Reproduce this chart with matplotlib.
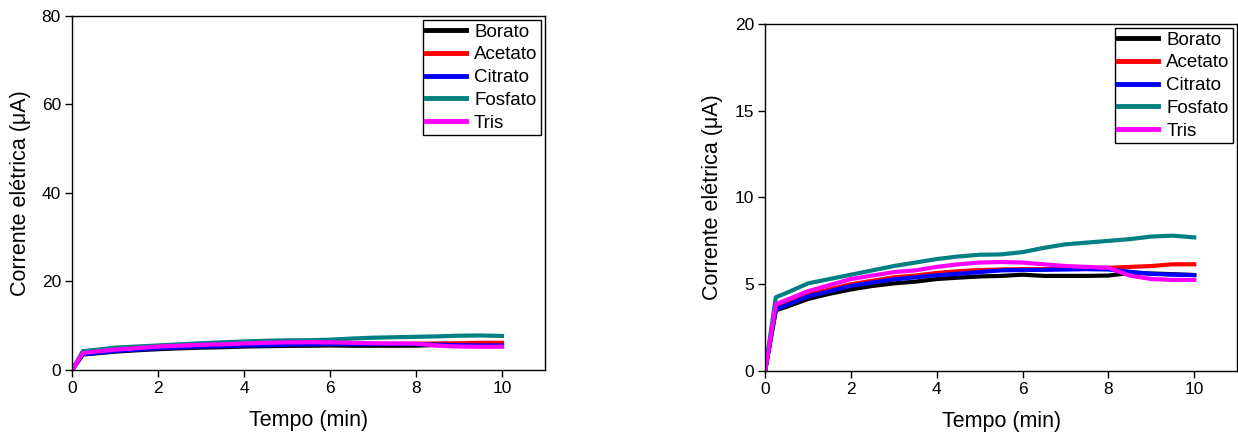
import numpy as np
import matplotlib
matplotlib.use("Agg")
from matplotlib import pyplot as plt

plt.rcParams['font.family'] = ['Liberation Sans', 'DejaVu Sans']

# time (min)
tempo = [0, 0.25, 0.5, 1, 1.5, 2, 2.5, 3, 3.5, 4, 4.5, 5, 5.5, 6, 6.5, 7, 7.5, 8, 8.5, 9, 9.5, 10]

# current (uA) per buffer
borato = [0, 3.5, 3.7, 4.15, 4.45, 4.7, 4.9, 5.05, 5.15, 5.3, 5.38, 5.45, 5.48, 5.55, 5.48, 5.48, 5.48, 5.5, 5.65, 5.62, 5.58, 5.53]
acetato = [0, 3.65, 3.9, 4.4, 4.7, 5.0, 5.2, 5.4, 5.5, 5.65, 5.75, 5.82, 5.85, 5.87, 5.87, 5.9, 5.92, 5.95, 6.0, 6.05, 6.15, 6.15]
citrato = [0, 3.55, 3.8, 4.3, 4.6, 4.9, 5.1, 5.28, 5.4, 5.52, 5.6, 5.7, 5.8, 5.82, 5.83, 5.85, 5.87, 5.85, 5.72, 5.6, 5.55, 5.53]
fosfato = [0, 4.25, 4.5, 5.05, 5.3, 5.55, 5.8, 6.05, 6.25, 6.45, 6.6, 6.7, 6.72, 6.85, 7.1, 7.3, 7.4, 7.5, 7.6, 7.75, 7.8, 7.7]
tris = [0, 3.85, 4.1, 4.6, 4.95, 5.3, 5.5, 5.7, 5.8, 6.0, 6.15, 6.25, 6.28, 6.25, 6.15, 6.05, 6.0, 5.95, 5.5, 5.3, 5.25, 5.25]

labels = ['Borato', 'Acetato', 'Citrato', 'Fosfato', 'Tris']
cores = ['#000000', '#FF0000', '#0000FF', '#008080', '#FF00FF']
series = [borato, acetato, citrato, fosfato, tris]

fig = plt.figure(figsize=(12.38, 4.33), dpi=100)
ax1 = fig.add_axes([0.0582, 0.1455, 0.382, 0.8176])
ax2 = fig.add_axes([0.618, 0.1432, 0.3813, 0.8014])

for ax, ymax, yticks in [(ax1, 80, [0, 20, 40, 60, 80]), (ax2, 20, [0, 5, 10, 15, 20])]:
    for y, lab, c in zip(series, labels, cores):
        ax.plot(tempo, y, color=c, lw=3.0, label=lab)
    ax.set_xlim(0, 11)
    ax.set_ylim(0, ymax)
    ax.set_xticks([0, 2, 4, 6, 8, 10])
    ax.set_yticks(yticks)
    ax.tick_params(direction='out', length=5, width=1, labelsize=12.5, top=False, right=False, pad=3)
    for s in ax.spines.values():
        s.set_linewidth(1)
    ax.set_xlabel('Tempo (min)', fontsize=15.5, labelpad=10)
    ax.set_ylabel('Corrente elétrica (μA)', fontsize=15.5, labelpad=8)
    leg = ax.legend(loc='upper right', fontsize=13.5, frameon=True, fancybox=False,
                    edgecolor='black', framealpha=1, borderaxespad=0.2,
                    handlelength=2.1, handletextpad=0.45, labelspacing=0.3,
                    borderpad=0.2)
    leg.get_frame().set_linewidth(1)
    for h in leg.get_lines():
        h.set_linewidth(3.5)

fig.savefig('out.png', dpi=100)
